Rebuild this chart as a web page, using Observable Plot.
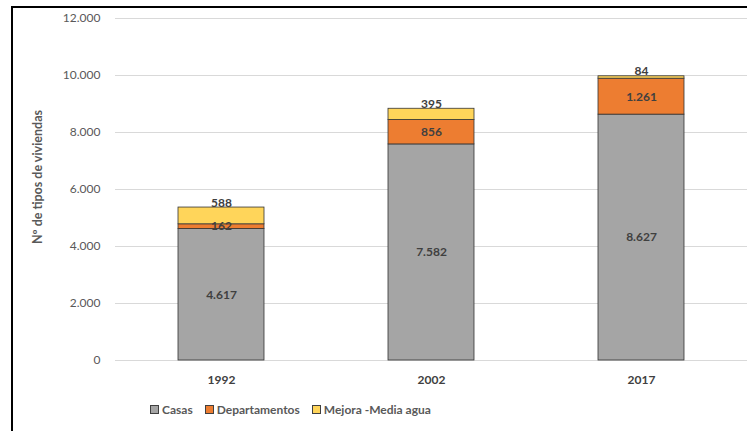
<!DOCTYPE html>
<html>
<head>
<meta charset="utf-8">
<script src="https://cdn.jsdelivr.net/npm/d3@7"></script>
<script src="https://cdn.jsdelivr.net/npm/@observablehq/plot@0.6"></script>
<style>
  html, body { margin: 0; padding: 0; background: #fff; }
  body { width: 747px; height: 431px; overflow: hidden; position: relative; font-family: Lato, "Open Sans", sans-serif; }
  #frame { position: absolute; left: 11px; top: 6px; right: -5px; bottom: -5px; border-left: 2px solid #000; border-top: 2px solid #000; pointer-events: none; }
  #chart { position: absolute; left: 0; top: 0; }
  #ylabel { position: absolute; left: 37px; top: 177px; transform: translate(-50%, -50%) rotate(-90deg); white-space: nowrap; font-size: 12.5px; font-weight: bold; color: #595959; }
  #legend { position: absolute; left: 150px; top: 402px; display: flex; gap: 12px; font-size: 12px; font-weight: bold; color: #595959; }
  #legend span.item { display: flex; align-items: center; }
  #legend span.sw { display: inline-block; width: 7px; height: 7px; border: 1px solid #404040; margin-right: 3px; }
</style>
</head>
<body>
<div id="chart"></div>
<div id="ylabel">Nº de tipos de viviendas</div>
<div id="legend"></div>
<div id="frame"></div>
<script>
const years = ["1992", "2002", "2017"];
const casas = [4617, 7582, 8627];
const departamentos = [162, 856, 1261];
const mejora = [588, 395, 84];
const seriesNames = ["Casas", "Departamentos", "Mejora -Media agua"];
const seriesColors = ["#a5a5a5", "#ed7d31", "#ffd55a"];
const yTicks = [0, 2000, 4000, 6000, 8000, 10000, 12000];

const locale = d3.formatLocale({decimal: ",", thousands: ".", grouping: [3], currency: ["$", ""]});
const fmt = locale.format(",d");

const seriesValues = [casas, departamentos, mejora];
const rows = [];
seriesNames.forEach((s, si) => {
  years.forEach((y, yi) => rows.push({year: y, serie: s, order: si, value: seriesValues[si][yi]}));
});
const totals = years.map((y, i) => ({year: y, total: casas[i] + departamentos[i] + mejora[i], value: mejora[i]}));
const inside = rows.filter(d => d.serie !== "Mejora -Media agua");

const chart = Plot.plot({
  width: 747,
  height: 395,
  marginLeft: 115,
  marginRight: 0,
  marginTop: 18,
  marginBottom: 35,
  style: {fontFamily: "Lato, 'Open Sans', sans-serif", background: "transparent"},
  x: {domain: years, paddingInner: 0.59, paddingOuter: 0.295, label: null},
  y: {domain: [0, 12000], ticks: yTicks, label: null},
  color: {domain: seriesNames, range: seriesColors},
  marks: [
    Plot.gridY(yTicks, {stroke: "#d9d9d9", strokeOpacity: 1, strokeWidth: 1}),
    Plot.axisY(yTicks, {tickSize: 0, tickPadding: 15, tickFormat: fmt, fontSize: 12, fill: "#595959", label: null}),
    Plot.axisX({tickSize: 0, tickPadding: 15, fontSize: 12, fontWeight: "bold", fill: "#404040", label: null}),
    Plot.barY(rows, Plot.stackY({x: "year", y: "value", z: "serie", order: "order", fill: "serie", stroke: "#333", strokeWidth: 0.8})),
    Plot.text(inside, Plot.stackY({x: "year", y: "value", z: "serie", order: "order", text: d => fmt(d.value), fontSize: 12, fontWeight: "bold", fill: "#404040"})),
    Plot.text(totals, {x: "year", y: "total", text: d => fmt(d.value), lineAnchor: "bottom", dy: -1, fontSize: 12, fontWeight: "bold", fill: "#404040"})
  ]
});
document.getElementById("chart").appendChild(chart);

const legend = document.getElementById("legend");
seriesNames.forEach((s, i) => {
  const item = document.createElement("span");
  item.className = "item";
  const sw = document.createElement("span");
  sw.className = "sw";
  sw.style.background = seriesColors[i];
  item.appendChild(sw);
  item.appendChild(document.createTextNode(s));
  legend.appendChild(item);
});
</script>
</body>
</html>
